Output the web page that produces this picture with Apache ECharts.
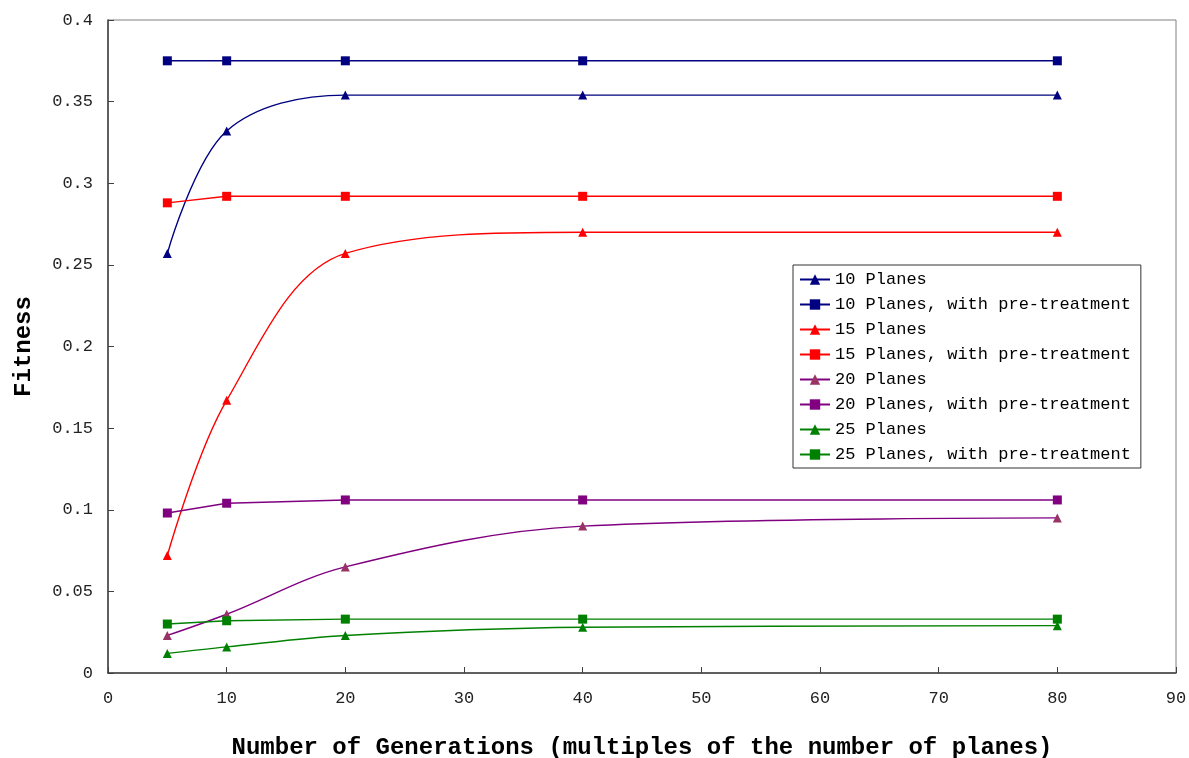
<!DOCTYPE html>
<html>
<head>
<meta charset="utf-8">
<script src="https://cdn.jsdelivr.net/npm/echarts@6/dist/echarts.min.js"></script>
<style>
  html, body { margin: 0; padding: 0; background: #fff; }
  #chart { width: 1189px; height: 758px; }
</style>
</head>
<body>
<div id="chart"></div>
<script>
// generations (multiples of the number of planes)
var generations = [5, 10, 20, 40, 80]

var planes10 = [0.257, 0.332, 0.354, 0.354, 0.354]
var planes10Pre = [0.375, 0.375, 0.375, 0.375, 0.375]
var planes15 = [0.072, 0.167, 0.257, 0.270, 0.270]
var planes15Pre = [0.288, 0.292, 0.292, 0.292, 0.292]
var planes20 = [0.023, 0.036, 0.065, 0.090, 0.095]
var planes20Pre = [0.098, 0.104, 0.106, 0.106, 0.106]
var planes25 = [0.012, 0.016, 0.023, 0.028, 0.029]
var planes25Pre = [0.030, 0.032, 0.033, 0.033, 0.033]

var seriesNames = [
  '10 Planes',
  '10 Planes, with pre-treatment',
  '15 Planes',
  '15 Planes, with pre-treatment',
  '20 Planes',
  '20 Planes, with pre-treatment',
  '25 Planes',
  '25 Planes, with pre-treatment'
]
var seriesValues = [planes10, planes10Pre, planes15, planes15Pre, planes20, planes20Pre, planes25, planes25Pre]

var lineColors = ['#000080', '#000080', '#ff0000', '#ff0000', '#800080', '#800080', '#008000', '#008000']
var markColors = ['#000080', '#000080', '#ff0000', '#ff0000', '#993366', '#800080', '#008000', '#008000']

var monoFont = '"Liberation Mono", "DejaVu Sans Mono", monospace'

function makeSeries (i) {
  var isPre = i % 2 === 1
  return {
    name: seriesNames[i],
    type: 'line',
    smooth: isPre ? false : 0.35,
    symbol: isPre ? 'rect' : 'triangle',
    symbolSize: 9,
    lineStyle: { color: lineColors[i], width: 1.4 },
    itemStyle: { color: markColors[i] },
    data: generations.map(function (g, k) { return [g, seriesValues[i][k]] })
  }
}

var chart = echarts.init(document.getElementById('chart'))
chart.setOption({
  animation: false,
  backgroundColor: '#fff',
  grid: {
    left: 108,
    right: 13,
    top: 20,
    bottom: 85,
    containLabel: false,
    outerBoundsMode: 'none',
    show: true,
    borderColor: '#808080',
    borderWidth: 1
  },
  legend: {
    orient: 'vertical',
    left: 793,
    top: 265,
    padding: [6, 10, 5, 6],
    itemGap: 8,
    itemWidth: 30,
    itemHeight: 13,
    borderColor: '#333',
    borderWidth: 1,
    backgroundColor: '#fff',
    textStyle: { fontFamily: monoFont, fontSize: 17, color: '#000' },
    data: seriesNames
  },
  xAxis: {
    type: 'value',
    min: 0,
    max: 90,
    interval: 10,
    name: 'Number of Generations (multiples of the number of planes)',
    nameLocation: 'middle',
    nameGap: 63,
    nameTextStyle: { fontFamily: monoFont, fontSize: 24, fontWeight: 'bold', color: '#000' },
    axisLine: { lineStyle: { color: '#404040', width: 1.5 } },
    axisTick: { inside: true, length: 6, lineStyle: { color: '#404040' } },
    axisLabel: { margin: 17, fontFamily: monoFont, fontSize: 17, color: '#222' },
    splitLine: { show: false }
  },
  yAxis: {
    type: 'value',
    min: 0,
    max: 0.4,
    interval: 0.05,
    name: 'Fitness',
    nameLocation: 'middle',
    nameGap: 72,
    nameTextStyle: { fontFamily: monoFont, fontSize: 24, fontWeight: 'bold', color: '#000' },
    axisLine: { show: true, lineStyle: { color: '#404040', width: 1.5 } },
    axisTick: { show: true, inside: true, length: 6, lineStyle: { color: '#404040' } },
    axisLabel: { margin: 15, fontFamily: monoFont, fontSize: 17, color: '#222' },
    splitLine: { show: false }
  },
  series: seriesNames.map(function (n, i) { return makeSeries(i) })
})
</script>
</body>
</html>
